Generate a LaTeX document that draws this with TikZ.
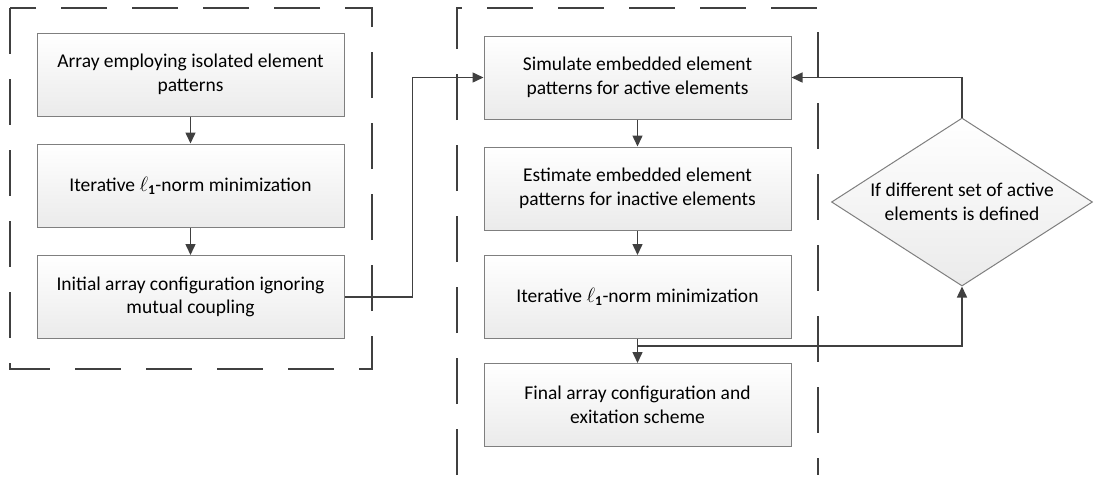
\documentclass[tikz,border=0pt]{standalone}
\usepackage{fontspec}
\setmainfont{Carlito}
\usetikzlibrary{arrows.meta,shapes.geometric,calc}
\definecolor{linegray}{HTML}{404040}
\definecolor{boxgray}{HTML}{7F7F7F}
\tikzset{
    stage/.style={draw=boxgray, line width=1pt, top color=white, bottom color=gray!16,
      minimum width=307pt, minimum height=83pt, inner sep=2pt, align=center,
      font=\fontsize{19.5}{23.5}\selectfont},
    query/.style={diamond, aspect=1.55, draw=boxgray, line width=1pt, top color=white, bottom color=gray!16,
      minimum width=261pt, minimum height=168pt, inner sep=0pt, align=center,
      font=\fontsize{19.5}{23.5}\selectfont},
    group/.style={draw=linegray, line width=2.5pt, dash pattern=on 46pt off 25pt},
    flow/.style={draw=linegray, line width=1.5pt, -{Triangle[length=11pt,width=10pt]}}}

\begin{document}
\begin{tikzpicture}[x=1pt,y=-1pt]
\useasboundingbox (0,0) rectangle (1094,479);

% dashed groups
\draw [group] (10,8) rectangle (372,369);
\draw [group] (457,475) -- (457,8) -- (818,8) -- (818,475);

% left column
\node [stage] (iso) at (190.5,74.5) {Array employing isolated element\\patterns};
\node [stage] (opt) at (190.5,185.5) {Iterative $\ell_{\mathbf{1}}$-norm minimization};
\node [stage] (init) at (190.5,297) {Initial array configuration ignoring\\mutual coupling};

% right column
\node [stage] (sim) at (637.5,77.5) {Simulate embedded element\\patterns for active elements};
\node [stage] (est) at (637.5,188.5) {Estimate embedded element\\patterns for inactive elements};
\node [stage] (reopt) at (637.5,297) {Iterative $\ell_{\mathbf{1}}$-norm minimization};
\node [stage] (final) at (637.5,405) {Final array configuration and\\exitation scheme};

\node [query] (check) at (962,202) {If different set of active\\elements is defined};

\coordinate (split) at ($(reopt.south)+(0,7)$);

\draw [flow] (iso) -- (opt);
\draw [flow] (opt) -- (init);
\draw [flow] (init.east) -- ++(68,0) |- (sim.west);
\draw [flow] (sim) -- (est);
\draw [flow] (est) -- (reopt);
\draw [flow] (reopt) -- (final);
\draw [flow] (split) -| (check.south);
\draw [flow] (check.north) |- (sim.east);
\end{tikzpicture}
\end{document}
